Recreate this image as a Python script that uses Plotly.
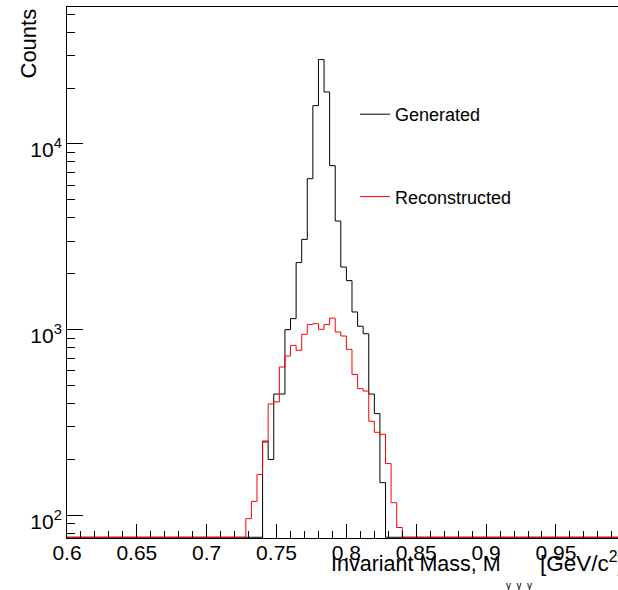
import numpy as np
import plotly.graph_objects as go

# ---- data (histogram: 100 bins from 0.6 to 1.0 GeV/c^2, width 0.004) ----
bin_low = 0.6
bin_width = 0.004
n_bins = 100

# Generated: non-empty bins start at bin index 35 (M = 0.740)
generated_first_bin = 35
generated_counts = [251, 200, 450, 450, 1000, 1146, 2297, 3063, 6500, 16080,
                    28450, 19050, 7640, 3845, 2173, 1836, 1245, 1043, 951,
                    450, 353, 150]

# Reconstructed: non-empty bins start at bin index 32 (M = 0.728)
reconstructed_first_bin = 32
reconstructed_counts = [96, 119, 166, 248, 398, 408, 629, 721, 823, 774, 944,
                        1065, 1077, 1004, 1065, 1154, 971, 924, 783, 574, 481,
                        467, 321, 280, 273, 190, 117, 86]

series_names = ["Generated", "Reconstructed"]
series_colors = ["#000000", "#ff0000"]

x_ticks_major = 0.05
x_ticks_minor = 0.01
y_tick_vals = [100, 1000, 10000]
y_tick_text = ["10<sup>2</sup>", "10<sup>3</sup>", "10<sup>4</sup>"]

# ---- layout constants ----
W, H = 618, 590
ML, MR, MT, MB = 67, 0, 7, 52
PW, PH = W - ML - MR, H - MT - MB
y_log_min = 1.878
y_log_max = y_log_min + PH / 185.7
x_max = 0.6 + PW / 1397.0
FONT = "Liberation Sans, Arial, Helvetica, sans-serif"


def full_hist(first_bin, counts):
    h = np.zeros(n_bins)
    h[first_bin:first_bin + len(counts)] = counts
    return h


def step_xy(h, floor):
    edges = bin_low + bin_width * np.arange(n_bins + 1)
    y = np.where(h > 0, h, floor)
    xs = list(edges[:-1]) + [edges[-1]]
    ys = list(y) + [y[-1]]
    return xs, ys


floor_val = 10 ** (y_log_min + 0.004)
fig = go.Figure()
for name, color, (fb, cnt) in zip(series_names, series_colors,
                                  [(generated_first_bin, generated_counts),
                                   (reconstructed_first_bin, reconstructed_counts)]):
    xs, ys = step_xy(full_hist(fb, cnt), floor_val)
    fig.add_trace(go.Scatter(x=xs, y=ys, mode="lines", name=name,
                             line=dict(color=color, width=1, shape="hv"),
                             legendgroup=name, hoverinfo="skip", cliponaxis=False))

minor_y = [m * 10 ** e for e in range(1, 5) for m in range(2, 10)]
minor_y = [v for v in minor_y if 10 ** y_log_min <= v <= 10 ** y_log_max]

fig.update_layout(
    width=W, height=H,
    margin=dict(l=ML, r=MR, t=MT, b=MB, autoexpand=False),
    paper_bgcolor="white", plot_bgcolor="white",
    font=dict(family=FONT, size=19, color="black"),
    showlegend=True,
    legend=dict(x=(355 - ML) / PW, y=(H - MB - 96) / PH, xanchor="left", yanchor="top",
                bgcolor="rgba(0,0,0,0)", borderwidth=0,
                font=dict(family=FONT, size=18, color="black"),
                traceorder="grouped", tracegroupgap=56, itemwidth=30),
    xaxis=dict(range=[0.6, x_max], showgrid=False, zeroline=False, automargin=False,
               showline=True, linecolor="black", linewidth=1, mirror=True,
               ticks="inside", ticklen=14, tickcolor="black", tickwidth=1,
               dtick=x_ticks_major, tick0=0.6, ticklabelstandoff=-4,
               tickfont=dict(family=FONT, size=21),
               minor=dict(dtick=x_ticks_minor, tick0=0.6, ticks="inside",
                          ticklen=7, tickcolor="black", tickwidth=1, showgrid=False)),
    yaxis=dict(type="log", range=[y_log_min, y_log_max], showgrid=False, automargin=False,
               zeroline=False, showline=True, linecolor="black", linewidth=1,
               ticks="inside", ticklen=16, tickcolor="black", tickwidth=1,
               tickvals=y_tick_vals, ticktext=y_tick_text, ticklabelshift=6,
               tickfont=dict(family=FONT, size=21),
               minor=dict(tickvals=minor_y, ticks="inside", ticklen=8,
                          tickcolor="black", tickwidth=1, showgrid=False)),
)

def px_x(px):
    return (px - ML) / PW

def px_y(py):
    return (H - MB - py) / PH

fig.add_annotation(text="Counts", textangle=-90, xref="paper", yref="paper",
                   x=px_x(27.5), y=px_y(7), xanchor="center", yanchor="top",
                   showarrow=False, font=dict(family=FONT, size=22))
fig.add_annotation(text="Invariant Mass, M", xref="paper", yref="paper",
                   x=px_x(329), y=px_y(564), xanchor="left", yanchor="middle",
                   showarrow=False, font=dict(family=FONT, size=21.5))
fig.add_annotation(text="γ&nbsp; γ&nbsp; γ", xref="paper", yref="paper",
                   x=px_x(504), y=px_y(585), xanchor="left", yanchor="middle",
                   showarrow=False, font=dict(family=FONT, size=10))
fig.add_annotation(text="[GeV/c<sup>2</sup>]", xref="paper", yref="paper",
                   x=px_x(538), y=px_y(562), xanchor="left", yanchor="middle",
                   showarrow=False, font=dict(family=FONT, size=22.5))

fig.write_html("out.html", config={"displayModeBar": False},
               post_script="document.body.style.margin='0';")
